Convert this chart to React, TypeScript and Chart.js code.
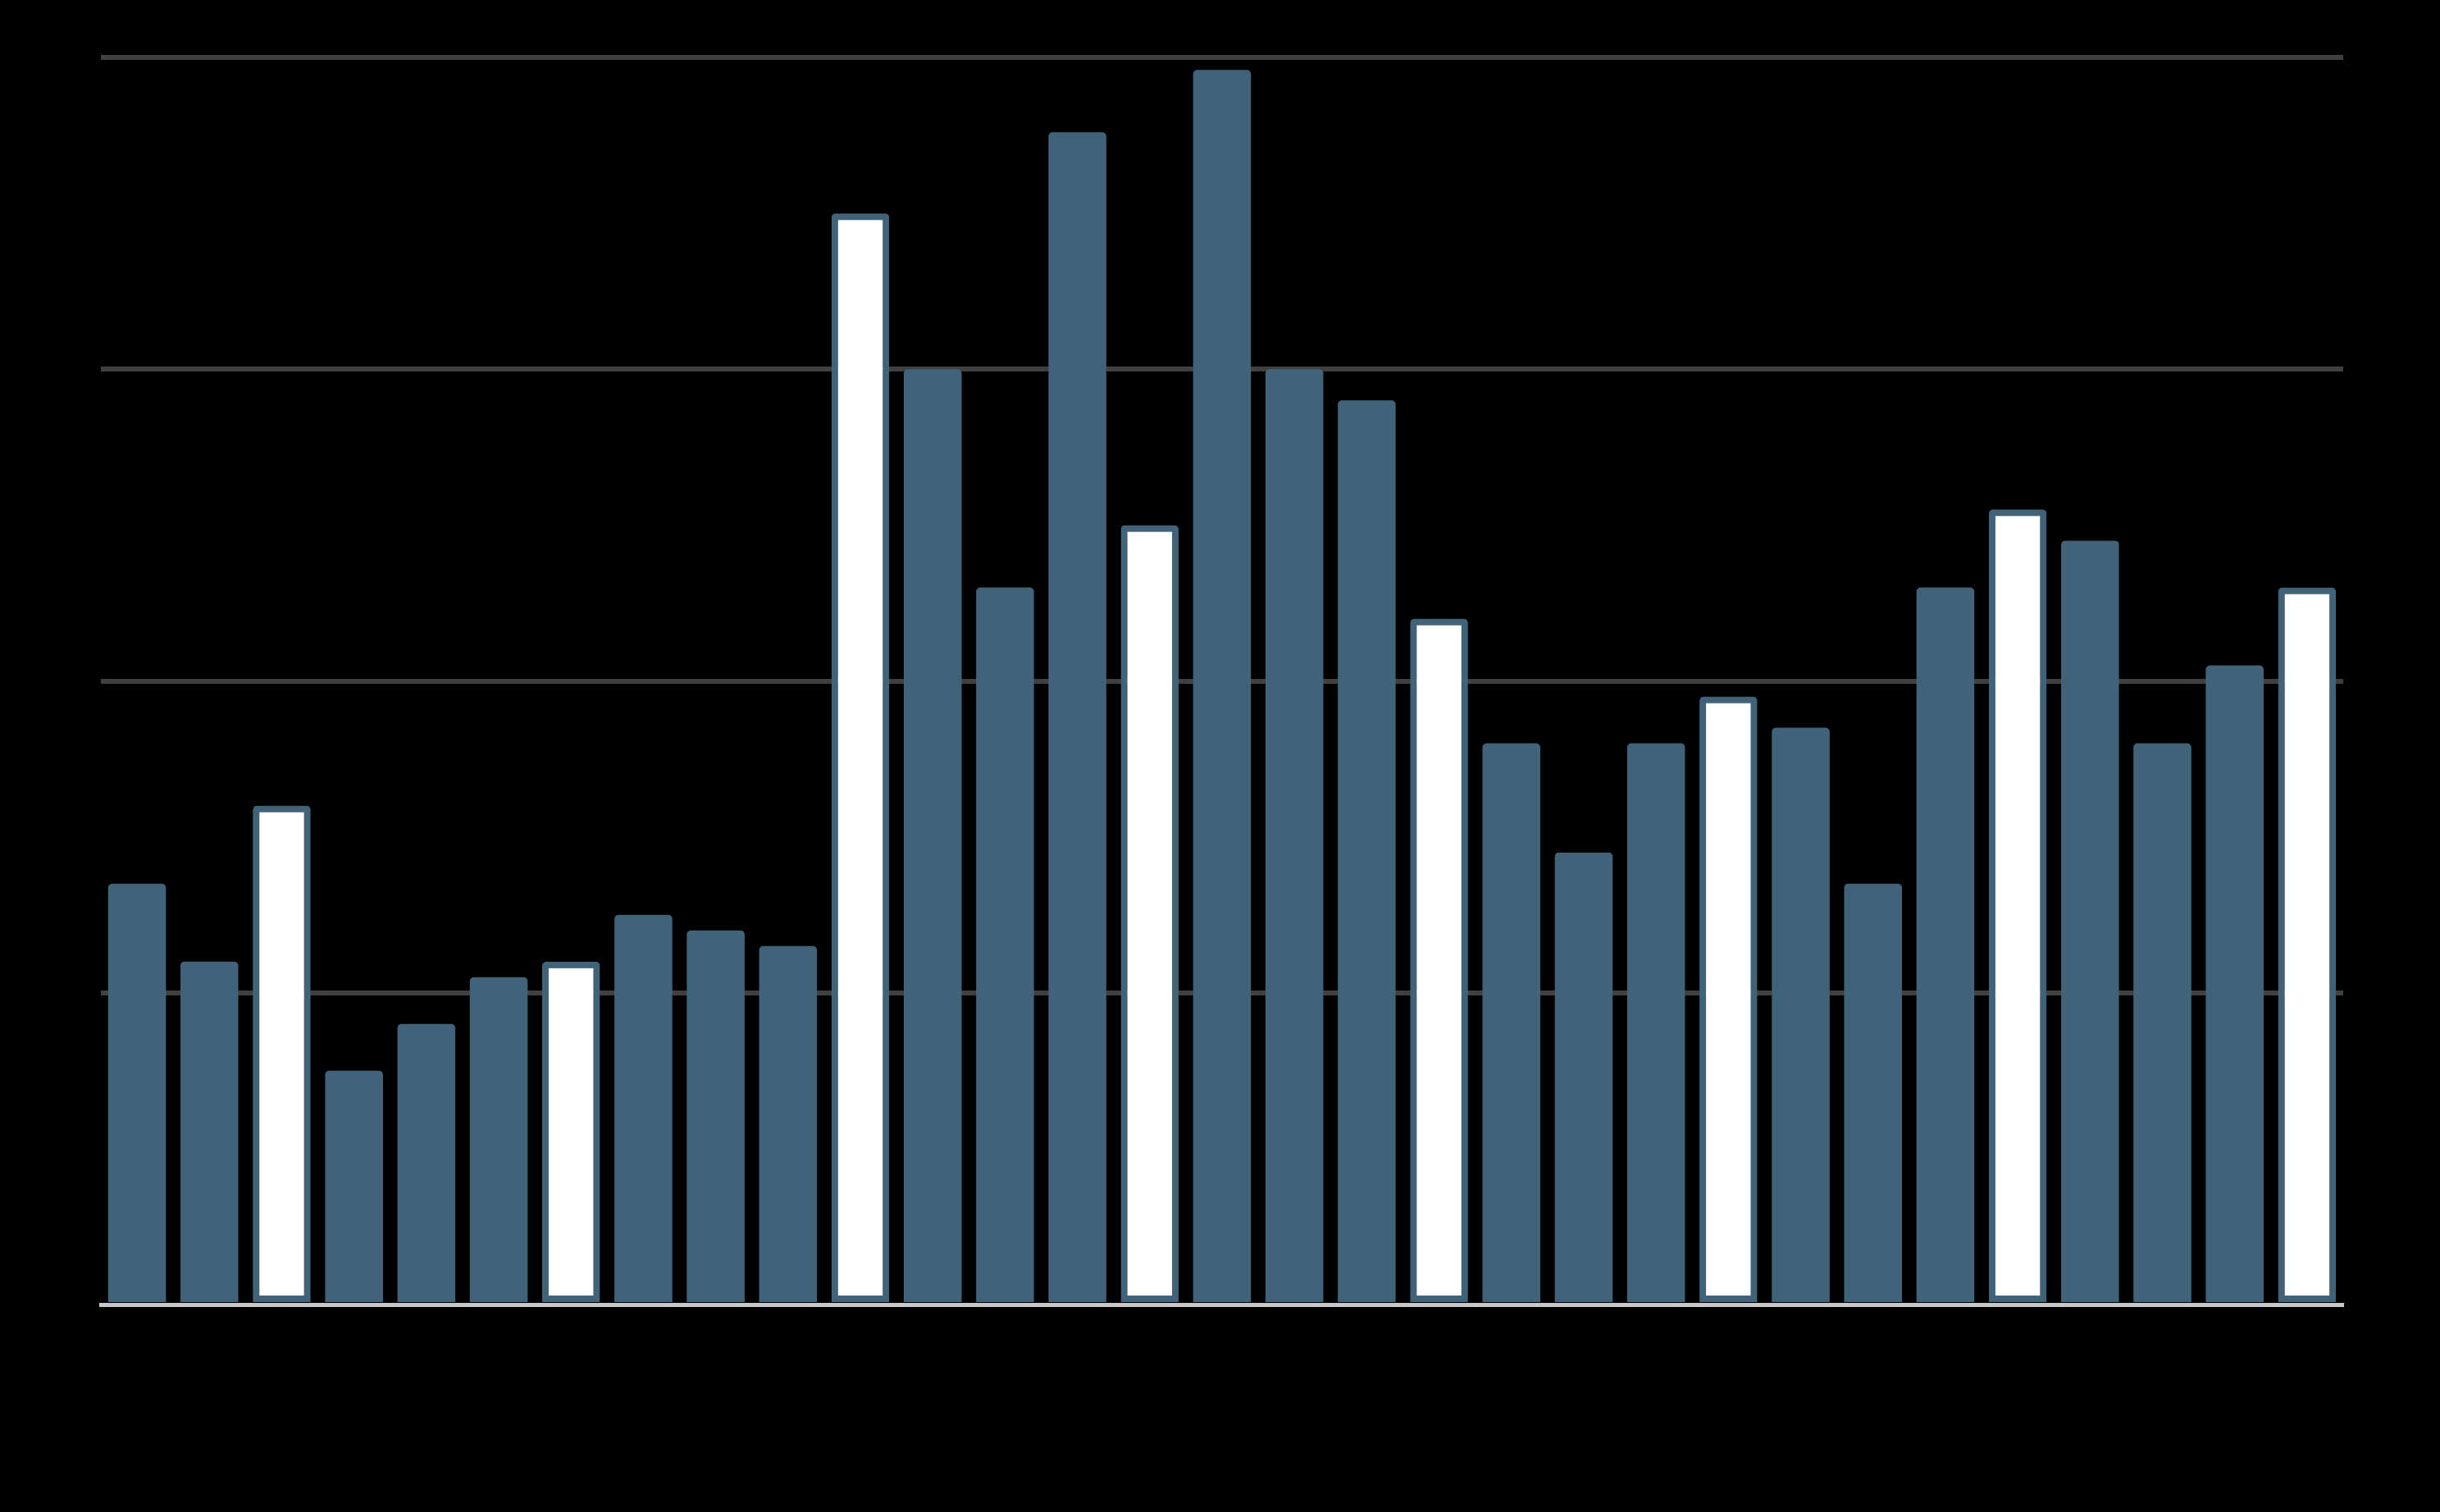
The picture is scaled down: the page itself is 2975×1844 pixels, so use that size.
import React, { useEffect, useRef } from "react";
import { Chart, registerables } from "chart.js";

Chart.register(...registerables);

const categories: string[] = Array.from({ length: 31 }, (_, i) => `P${i + 1}`);
const values: number[] = [
  13.5, 11.0, 16.0, 7.5, 9.0, 10.5, 11.0, 12.5, 12.0, 11.5,
  35.0, 30.0, 23.0, 37.6, 25.0, 39.6, 30.0, 29.0, 22.0, 18.0,
  14.5, 18.0, 19.5, 18.5, 13.5, 23.0, 25.5, 24.5, 18.0, 20.5, 23.0,
];
const highlighted: boolean[] = [
  false, false, true, false, false, false, true, false, false, false,
  true, false, false, false, true, false, false, false, true, false,
  false, false, true, false, false, false, true, false, false, false, true,
];
const yTicks: number[] = [0, 10, 20, 30, 40];

const BAR = "#416379";

export default function App() {
  const ref = useRef<HTMLCanvasElement | null>(null);
  useEffect(() => {
    document.body.style.margin = "0";
    document.body.style.background = "#000";
    if (!ref.current) return;
    const chart = new Chart(ref.current, {
      type: "bar",
      data: {
        labels: categories,
        datasets: [
          {
            data: values,
            backgroundColor: highlighted.map((h) => (h ? "#ffffff" : BAR)),
            borderColor: BAR,
            borderWidth: highlighted.map((h) => (h ? 8 : 0)),
            borderSkipped: false,
            borderRadius: { topLeft: 5, topRight: 5, bottomLeft: 0, bottomRight: 0 },
            barPercentage: 0.8,
            categoryPercentage: 1.0,
          },
        ],
      },
      options: {
        animation: false,
        responsive: true,
        maintainAspectRatio: false,
        layout: { padding: { left: 123, right: 118, top: 70, bottom: 245 } },
        plugins: { legend: { display: false }, tooltip: { enabled: false } },
        scales: {
          x: {
            display: true,
            z: 1,
            ticks: { display: false },
            grid: { display: false },
            border: { display: true, color: "#c8c8c8", width: 5 },
          },
          y: {
            min: 0,
            max: 40,
            afterBuildTicks: (axis: any) => {
              axis.ticks = yTicks.map((v) => ({ value: v }));
            },
            ticks: { display: false },
            border: { display: false },
            grid: {
              drawTicks: false,
              lineWidth: 6,
              color: (ctx: any) => (ctx.tick && ctx.tick.value === 0 ? "rgba(0,0,0,0)" : "#404040"),
            },
          },
        },
      },
    });
    return () => chart.destroy();
  }, []);
  return (
    <div style={{ position: "fixed", left: 0, top: 0, width: "100vw", height: "100vh", background: "#000" }}>
      <canvas ref={ref} />
    </div>
  );
}
